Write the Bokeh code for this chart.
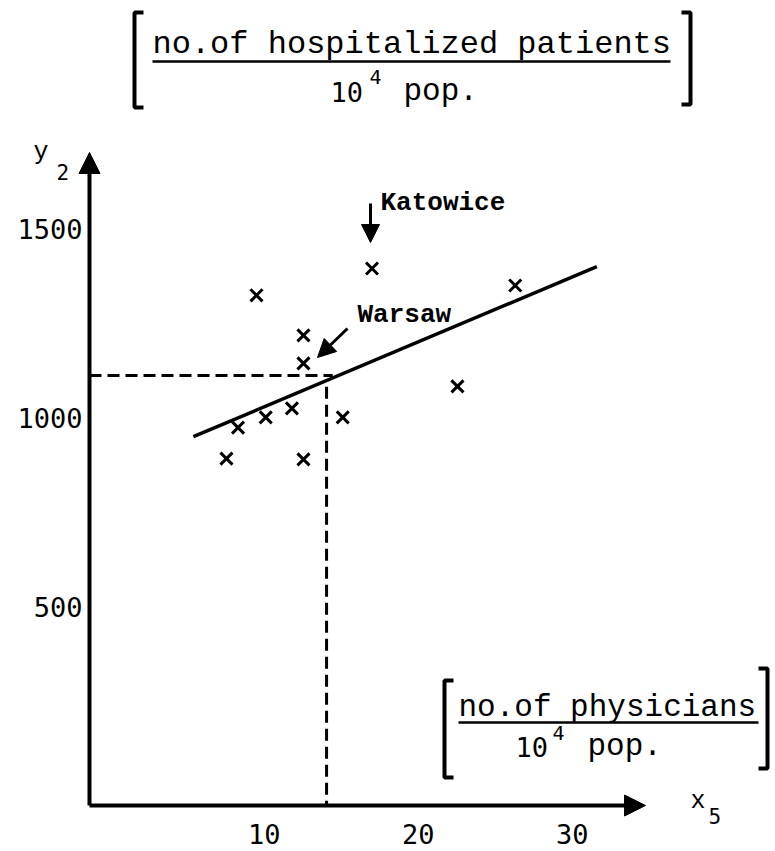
from bokeh.plotting import figure
from bokeh.models import Arrow, NormalHead, FixedTicker, Label
from bokeh.embed import file_html
from bokeh.resources import INLINE

# ---------------- data ----------------
physicians = [17.0, 9.5, 26.3, 12.55, 12.55, 22.55, 15.1, 11.8, 10.1, 8.3, 7.55, 12.55]
hospitalized = [1396, 1325, 1351, 1219, 1145, 1084, 1002, 1026, 1002, 975, 893, 891]
fit_x = [5.4, 31.6]
fit_y = [951, 1401]
mean_x = 14.05
mean_y = 1113
x_ticks = [10, 20, 30]
y_ticks = [500, 1000, 1500]

# ---------------- layout ----------------
W, H = 772, 848
SX = 15.4            # px per unit of x
SY = 0.378           # px per unit of y
X0 = -109.7 / SX
X1 = X0 + W / SX
Y1 = 1000 + 417.67 / SY
Y0 = Y1 - H / SY


def X(px):  # picture pixel -> data x
    return X0 + px / SX


def Y(py):  # picture pixel -> data y
    return Y1 - py / SY


AX = X(89)    # y-axis position
AY = Y(805)   # x-axis position

MONO = "Liberation Mono"
SANS = "DejaVu Sans Mono"

p = figure(width=W, height=H, x_range=(X0, X1), y_range=(Y0, Y1),
           output_backend="svg", toolbar_location=None, min_border=0)
p.grid.visible = False
p.outline_line_color = None
p.background_fill_color = "white"
p.border_fill_color = "white"

for ax, ticks in ((p.xaxis, x_ticks), (p.yaxis, y_ticks)):
    ax.ticker = FixedTicker(ticks=ticks)
    ax.axis_line_color = None
    ax.major_tick_line_color = None
    ax.minor_tick_line_color = None
    ax.major_label_text_font = SANS
    ax.major_label_text_font_size = "27px"
    ax.major_label_text_color = "black"
p.yaxis.fixed_location = AX
p.xaxis.fixed_location = AY
p.yaxis.major_label_standoff = 1
p.xaxis.major_label_standoff = 12

# axes as arrows
p.add_layout(Arrow(end=NormalHead(size=21, fill_color="black", line_color="black"),
                   x_start=AX, y_start=AY, x_end=AX, y_end=Y(152),
                   line_width=4, line_color="black"))
p.add_layout(Arrow(end=NormalHead(size=21, fill_color="black", line_color="black"),
                   x_start=AX, y_start=AY, x_end=X(645), y_end=AY,
                   line_width=4, line_color="black"))

# dashed guides at the mean point
p.line([AX, mean_x + 0.4], [mean_y, mean_y], line_dash="12 6", line_width=3, color="black")
p.line([mean_x, mean_x], [mean_y - 30, AY], line_dash="12 6", line_width=3, color="black")

# fitted line
p.line(fit_x, fit_y, line_width=3.5, color="black")

# points
p.scatter(physicians, hospitalized, marker="x", size=17, line_width=3, color="black")


def lbl(px, py, text, font=MONO, size=31, style="normal"):
    # py is the wanted baseline; correct for the renderer's baseline shift
    p.add_layout(Label(x=X(px), y=Y(py - 0.3 * size), text=text, text_font=font,
                       text_font_size=f"{size}px", text_baseline="alphabetic",
                       text_color="black", text_font_style=style))


def bracket(px, top, bottom, direction):
    xs = [px + direction * 9, px, px, px + direction * 9]
    ys = [top, top, bottom, bottom]
    p.line([X(v) for v in xs], [Y(v) for v in ys], line_width=4, color="black")


# city annotations
p.add_layout(Arrow(end=NormalHead(size=18, fill_color="black", line_color="black"),
                   x_start=X(370), y_start=Y(203), x_end=X(370), y_end=Y(242),
                   line_width=3, line_color="black"))
lbl(380, 210, "Katowice", size=26, style="bold")
p.add_layout(Arrow(end=NormalHead(size=18, fill_color="black", line_color="black"),
                   x_start=X(347), y_start=Y(328), x_end=X(317), y_end=Y(357),
                   line_width=3, line_color="black"))
lbl(357, 322, "Warsaw", size=26, style="bold")

# axis names
lbl(33, 159, "y", size=25)
lbl(56, 178, "2", font=SANS, size=21)
lbl(690, 808, "x", size=25)
lbl(708, 822, "5", font=SANS, size=21)

# top unit header
bracket(134, 12, 107, 1)
bracket(690, 12, 104, -1)
lbl(152, 54, "no.of hospitalized patients", size=32)
p.line([X(152), X(670)], [Y(61), Y(61)], line_width=2.5, color="black")
lbl(330, 100, "10", font=SANS, size=27)
lbl(369, 82, "4", font=SANS, size=20)
lbl(403, 100, "pop.", size=31)

# bottom unit header
bracket(444, 680, 777, 1)
bracket(767, 668, 768, -1)
lbl(458, 716, "no.of physicians", size=31)
p.line([X(458), X(758)], [Y(722), Y(722)], line_width=2.5, color="black")
lbl(515, 755, "10", font=SANS, size=27)
lbl(552, 738, "4", font=SANS, size=20)
lbl(587, 755, "pop.", size=31)

open("out.html", "w").write(file_html(p, INLINE))
